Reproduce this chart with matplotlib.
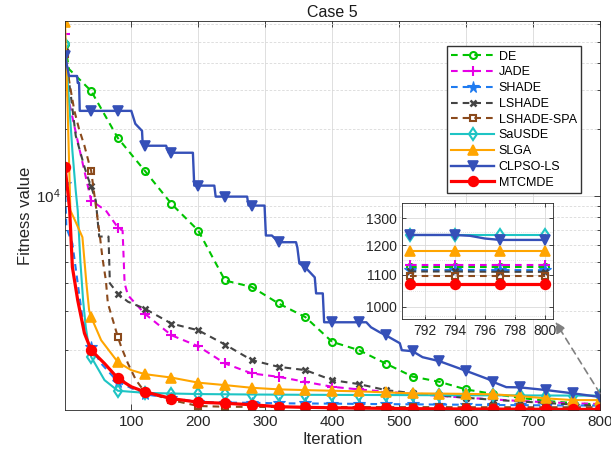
from __future__ import annotations

import matplotlib

matplotlib.use("Agg")
import matplotlib.pyplot as plt
from matplotlib.ticker import FixedLocator, NullFormatter, ScalarFormatter, LogLocator

plt.rcParams["font.family"] = ["Liberation Sans", "DejaVu Sans"]
plt.rcParams["mathtext.fontset"] = "custom"
plt.rcParams["mathtext.rm"] = "Liberation Sans"

# iterations where the markers sit in the main axes
MARK_ITERS = [1, 40, 80, 120, 160, 200, 240, 280, 320, 360, 400,
              440, 480, 520, 560, 600, 640, 680, 720, 760, 800]
TAIL = [160, 200, 240, 280, 320, 360, 400, 440, 480, 520, 560, 600, 640, 680, 720, 760, 800]

NAMES = ["DE", "JADE", "SHADE", "LSHADE", "LSHADE-SPA", "SaUSDE", "SLGA", "CLPSO-LS", "MTCMDE"]

DE_X = [1, 7, 40, 80, 120] + TAIL
DE_Y = [48600, 37500, 29850, 18240, 12980, 9170, 6940, 4120, 3850, 3240, 2810, 2170, 1990,
        1730, 1510, 1430, 1320, 1260, 1210, 1170, 1145, 1127]

JADE_X = [1, 5, 22, 40, 62, 80, 87, 90, 95, 120] + TAIL
JADE_Y = [53900, 28400, 16550, 9490, 8560, 7160, 6940, 4000, 3530, 2915, 2325, 2073, 1731,
          1560, 1506, 1429, 1357, 1320, 1290, 1260, 1235, 1210, 1190, 1170, 1155, 1142, 1133]

SHADE_X = [1, 3, 12, 22, 27, 34, 40, 55, 80, 120] + TAIL
SHADE_Y = [11330, 7160, 6065, 3600, 2805, 2207, 2058, 1731, 1429, 1255, 1205, 1160, 1150,
           1148, 1142, 1140, 1138, 1135, 1132, 1130, 1127, 1125, 1122, 1120, 1118, 1116, 1115]

LSHADE_X = [1, 10, 17, 30, 35, 40, 47, 52, 66, 68, 80, 95, 120] + TAIL
LSHADE_Y = [45500, 28000, 18700, 13500, 12100, 11000, 9490, 6520, 6520, 4000, 3590, 3300,
            3071, 2626, 2449, 2110, 1792, 1672, 1615, 1455, 1396, 1311, 1270, 1240, 1210,
            1185, 1165, 1145, 1128, 1110]

SPA_X = [1, 8, 15, 22, 30, 37, 40, 48, 53, 57, 62, 65, 80, 85, 95, 107, 120] + TAIL
SPA_Y = [44000, 32000, 24240, 20030, 16840, 13950, 12980, 8550, 6590, 5190, 4130, 3250,
         2280, 2058, 1731, 1455, 1288, 1181, 1110, 1102, 1100, 1099, 1099, 1098, 1098,
         1097, 1097, 1097, 1096, 1096, 1096, 1096, 1096, 1096]

SAUSDE_X = [1, 8, 12, 17, 20, 24, 28, 32, 35, 40, 60, 80, 120] + TAIL
SAUSDE_Y = [48600, 24240, 15980, 10535, 8556, 5000, 3350, 2535, 2207, 1855, 1455, 1302, 1274,
            1265, 1258, 1255, 1252, 1250, 1248, 1247, 1246, 1245, 1244, 1243, 1242, 1241,
            1240, 1239, 1238, 1238]

SLGA_X = [1, 5, 9, 16, 27, 33, 37, 40, 55, 80, 100, 120] + TAIL
SLGA_Y = [61300, 24240, 8556, 7709, 6476, 3985, 3017, 2813, 2207, 1755, 1615, 1549, 1494,
          1417, 1381, 1343, 1321, 1311, 1302, 1294, 1280, 1267, 1264, 1260, 1255, 1232,
          1202, 1181, 1181]

CLPSO_X = [1, 7, 19, 20, 22, 23, 40, 80, 100, 106, 116, 117, 120, 152, 156, 160, 192, 194,
           200, 224, 226, 240, 273, 275, 280, 299, 301, 310, 320, 346, 348, 351, 360, 374,
           376, 386, 388, 400, 440, 451, 458, 471, 480, 501, 504, 520, 535, 560, 600, 633,
           640, 660, 680, 720, 760, 800]
CLPSO_Y = [43000, 34900, 34900, 32450, 32450, 24240, 24240, 24240, 24240, 21180, 19680,
           17190, 16840, 16840, 15650, 15650, 15650, 11100, 11100, 11100, 9896, 9896, 9896,
           9011, 9011, 9011, 6592, 6592, 6146, 6146, 5816, 4923, 4722, 4256, 3601, 3601,
           2663, 2663, 2663, 2663, 2527, 2399, 2325, 2140, 1989, 1968, 1849, 1774, 1603,
           1470, 1429, 1352, 1349, 1311, 1267, 1220]

MTC_X = [1, 5, 8, 12, 20, 30, 40, 60, 80, 100, 120] + TAIL
MTC_Y = [13530, 10535, 8556, 4737, 3349, 2375, 1990, 1731, 1482, 1357, 1288, 1200, 1155,
         1142, 1125, 1102, 1095, 1090, 1086, 1083, 1080, 1078, 1076, 1075, 1074, 1073,
         1072, 1071]

# zoomed window, last iterations
ZOOM_X = [791, 794, 797, 800]
ZOOM_CLPSO_X = [791, 794, 795, 796, 797, 800]
ZOOM_DE = [1127, 1127, 1127, 1127]
ZOOM_JADE = [1133, 1133, 1133, 1133]
ZOOM_SHADE = [1116, 1116, 1116, 1115]
ZOOM_LSHADE = [1111, 1111, 1110, 1110]
ZOOM_SPA = [1096, 1096, 1096, 1096]
ZOOM_SAUSDE = [1238, 1238, 1238, 1238]
ZOOM_SLGA = [1181, 1181, 1181, 1181]
ZOOM_CLPSO = [1238, 1238, 1235, 1225, 1220, 1220]
ZOOM_MTC = [1071, 1071, 1071, 1071]

DASH = (0, (3.2, 2.4))
STYLES = {
    "DE": dict(color="#00C400", ls=DASH, marker="o", mfc="none", lw=1.5, ms=5, mew=1.5),
    "JADE": dict(color="#E600E6", ls=DASH, marker="+", lw=1.5, ms=7, mew=1.5),
    "SHADE": dict(color="#1F7BF0", ls=DASH, marker="*", lw=1.5, ms=8.5, mew=0.8),
    "LSHADE": dict(color="#444444", ls=DASH, marker="x", lw=1.5, ms=5, mew=1.8),
    "LSHADE-SPA": dict(color="#8B4A1C", ls=DASH, marker="s", mfc="none", lw=1.5, ms=5, mew=1.5),
    "SaUSDE": dict(color="#1EC4C4", ls="-", marker="d", mfc="none", lw=1.5, ms=6, mew=1.5),
    "SLGA": dict(color="#FFA500", ls="-", marker="^", lw=1.5, ms=7, mew=1.2),
    "CLPSO-LS": dict(color="#3550B8", ls="-", marker="v", lw=1.7, ms=7, mew=1.2),
    "MTCMDE": dict(color="#FF0000", ls="-", marker="o", lw=2.3, ms=7, mew=1.2),
}


def mark_index(xs: list[int], marks: list[int]) -> list[int]:
    return [xs.index(m) for m in marks if m in xs]


def main() -> None:
    fig = plt.figure(figsize=(6.11, 4.63), dpi=100)
    ax = fig.add_axes([0.1064, 0.1145, 0.8756, 0.8402])

    series = [
        ("DE", DE_X, DE_Y),
        ("JADE", JADE_X, JADE_Y),
        ("SHADE", SHADE_X, SHADE_Y),
        ("LSHADE", LSHADE_X, LSHADE_Y),
        ("LSHADE-SPA", SPA_X, SPA_Y),
        ("SaUSDE", SAUSDE_X, SAUSDE_Y),
        ("SLGA", SLGA_X, SLGA_Y),
        ("CLPSO-LS", CLPSO_X, CLPSO_Y),
        ("MTCMDE", MTC_X, MTC_Y),
    ]
    for name, xs, ys in series:
        ax.plot(xs, ys, label=name, markevery=mark_index(xs, MARK_ITERS), **STYLES[name])

    ax.set_yscale("log")
    ax.set_xlim(1, 800)
    ax.set_ylim(1065, 62000)
    ax.set_xticks(range(100, 801, 100))
    ax.yaxis.set_major_locator(FixedLocator([1e4]))
    ax.yaxis.set_minor_locator(LogLocator(base=10, subs=range(2, 10)))
    ax.yaxis.set_minor_formatter(NullFormatter())
    ax.tick_params(which="both", direction="in", top=True, right=True,
                   labelsize=11, colors="0.15", width=0.6)
    ax.tick_params(which="major", length=4.5)
    ax.tick_params(which="minor", length=2.5)
    ax.grid(True, which="major", color="0.85", lw=0.6)
    ax.grid(True, which="minor", axis="y", color="0.85", lw=0.6, ls=(0, (3, 2)))
    for sp in ax.spines.values():
        sp.set_color("0.15")
        sp.set_linewidth(0.6)
    ax.set_xlabel("Iteration", fontsize=12, color="0.15", labelpad=2)
    ax.set_ylabel("Fitness value", fontsize=12, color="0.15", labelpad=2)
    ax.set_title("Case 5", fontsize=11.5, color="0.1", pad=3)

    ax.legend(loc="upper left", bbox_to_anchor=(0.714, 0.935), borderaxespad=0,
              fontsize=9, handlelength=3.4, handletextpad=0.4, labelspacing=0.3,
              fancybox=False, edgecolor="0.2", framealpha=1, borderpad=0.35)

    # inset
    ins = fig.add_axes([0.658, 0.311, 0.247, 0.2505])
    zoom = [
        ("DE", ZOOM_X, ZOOM_DE),
        ("JADE", ZOOM_X, ZOOM_JADE),
        ("SHADE", ZOOM_X, ZOOM_SHADE),
        ("LSHADE", ZOOM_X, ZOOM_LSHADE),
        ("LSHADE-SPA", ZOOM_X, ZOOM_SPA),
        ("SaUSDE", ZOOM_X, ZOOM_SAUSDE),
        ("SLGA", ZOOM_X, ZOOM_SLGA),
        ("CLPSO-LS", ZOOM_CLPSO_X, ZOOM_CLPSO),
        ("MTCMDE", ZOOM_X, ZOOM_MTC),
    ]
    for name, xs, ys in zoom:
        ins.plot(xs, ys, markevery=mark_index(xs, ZOOM_X), **STYLES[name])
    ins.set_yscale("log")
    ins.set_xlim(790.5, 800.5)
    ins.set_ylim(965, 1361)
    ins.set_xticks([792, 794, 796, 798, 800])
    ins.yaxis.set_major_locator(FixedLocator([1000, 1100, 1200, 1300]))
    ins.yaxis.set_major_formatter(ScalarFormatter())
    ins.yaxis.set_minor_locator(FixedLocator([975, 1050, 1150, 1250, 1350]))
    ins.yaxis.set_minor_formatter(NullFormatter())
    ins.tick_params(which="both", direction="in", top=True, right=True,
                    labelsize=10, colors="0.15", width=0.6)
    ins.tick_params(which="major", length=3)
    ins.tick_params(which="minor", length=0)
    ins.grid(True, which="major", color="0.85", lw=0.6)
    ins.grid(True, which="minor", axis="y", color="0.85", lw=0.6, ls=(0, (1, 1.5)))
    for sp in ins.spines.values():
        sp.set_color("0.15")
        sp.set_linewidth(0.6)
    ins.set_facecolor("white")

    ax.annotate("", xy=(0.909, 0.305), xytext=(0.982, 0.150), xycoords="figure fraction",
                arrowprops=dict(arrowstyle="-|>", linestyle=(0, (4, 3)), color="0.5",
                                lw=1.2, mutation_scale=16, shrinkA=0, shrinkB=0))

    fig.savefig("out.png", dpi=100)
    plt.close(fig)


if __name__ == "__main__":
    main()
